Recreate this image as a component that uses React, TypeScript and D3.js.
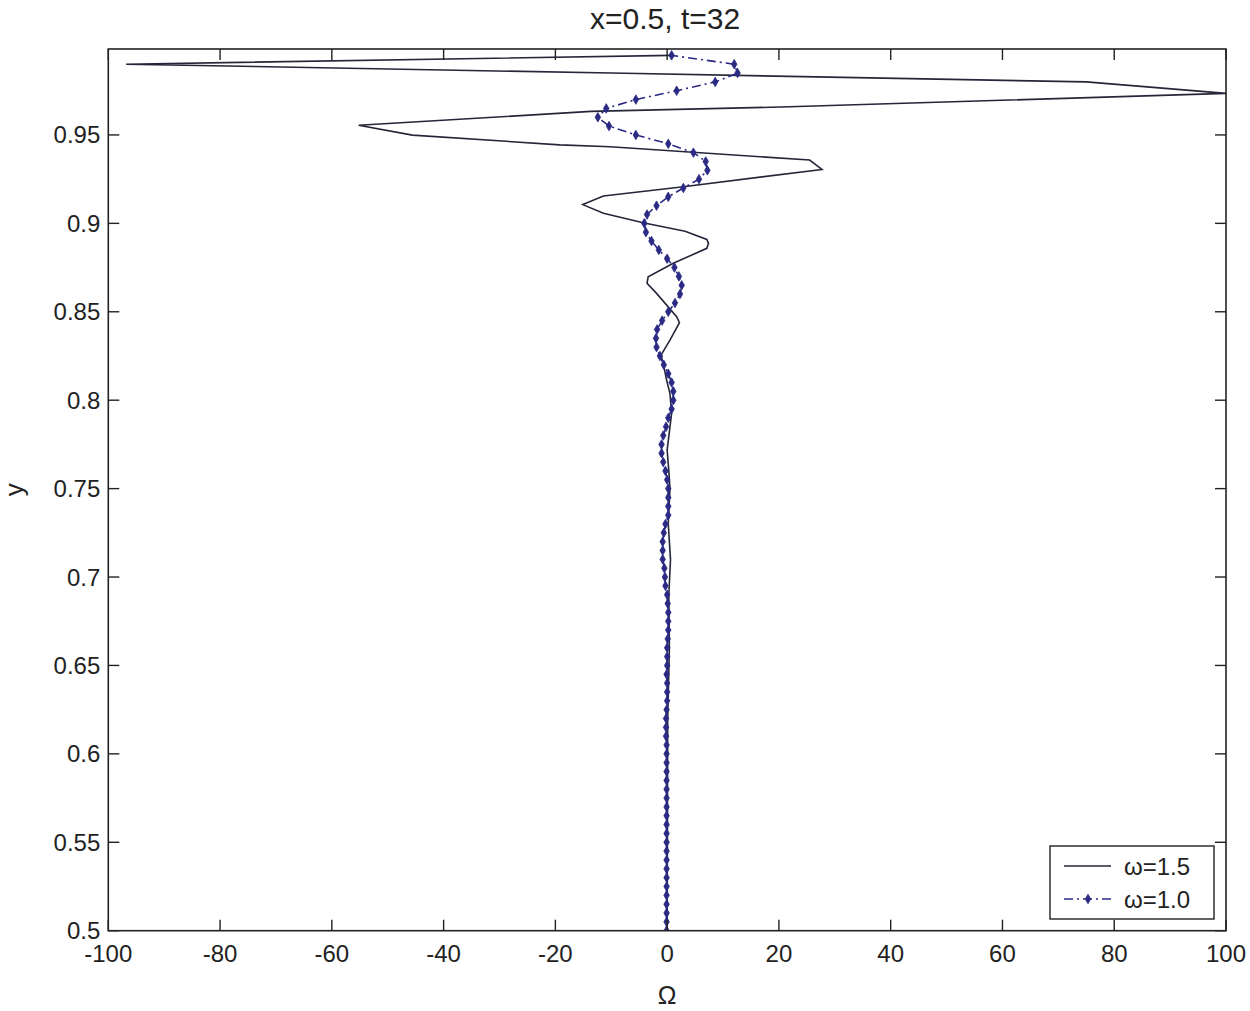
import React from "react";
import * as d3 from "d3";

const title = "x=0.5, t=32";
const xLabel = "Ω";
const yLabel = "y";
const xTicks = [-100, -80, -60, -40, -20, 0, 20, 40, 60, 80, 100];
const yTicks = [0.5, 0.55, 0.6, 0.65, 0.7, 0.75, 0.8, 0.85, 0.9, 0.95];
const seriesNames = ["ω=1.5", "ω=1.0"];

// ω=1.5 (solid) vertices: y positions and Ω values
const solidY = [0.995, 0.99, 0.985, 0.98, 0.9735, 0.9659, 0.9633, 0.9555, 0.9499, 0.9444, 0.9433, 0.9358, 0.9305,
  0.9207, 0.9155, 0.9106, 0.9057, 0.9003, 0.8955, 0.8909, 0.8887, 0.8859, 0.8774, 0.8698, 0.8661, 0.8604,
  0.8472, 0.8438, 0.834, 0.8255, 0.8208, 0.8114, 0.8039, 0.7926, 0.7718, 0.76, 0.75, 0.73, 0.71, 0.69, 0.66, 0.62, 0.5];
const solidOmega = [0.8, -96.8, -10, 75, 100, 21.9, -13.6, -55.2, -45.6, -19.2, -10.2, 25.5, 27.7,
  2.9, -11.4, -15.1, -11.4, -4.3, 3.2, 7.1, 7.4, 7.1, 1.1, -3.4, -3.6, -1.9,
  1.7, 2.2, 0.5, -1.1, -0.7, -0.1, 0.5, 0.8, 0.0, 0.3, 0.5, 0.2, 0.6, 0.3, 0.4, 0.1, 0.0];

// ω=1.0 (dash-dot with markers)
const dotY = [0.5, 0.505, 0.51, 0.515, 0.52, 0.525, 0.53, 0.535, 0.54, 0.545, 0.55, 0.555, 0.56, 0.565, 0.57, 0.575,
  0.58, 0.585, 0.59, 0.595, 0.6, 0.605, 0.61, 0.615, 0.62, 0.625, 0.63, 0.635, 0.64, 0.645, 0.65, 0.655, 0.66, 0.665,
  0.67, 0.675, 0.68, 0.685, 0.69, 0.695, 0.7, 0.705, 0.71, 0.715, 0.72, 0.725, 0.73, 0.735, 0.74, 0.745, 0.75, 0.755,
  0.76, 0.765, 0.77, 0.775, 0.78, 0.785, 0.79, 0.795, 0.8, 0.805, 0.81, 0.815, 0.82, 0.825, 0.83, 0.835, 0.84, 0.845,
  0.85, 0.855, 0.86, 0.865, 0.87, 0.875, 0.88, 0.885, 0.89, 0.895, 0.9, 0.905, 0.91, 0.915, 0.92, 0.925, 0.93, 0.935,
  0.94, 0.945, 0.95, 0.955, 0.96, 0.965, 0.97, 0.975, 0.98, 0.985, 0.99, 0.995];
const dotOmega = [-0.1, -0.1, -0.1, -0.1, -0.1, -0.1, -0.1, -0.1, -0.1, -0.1, -0.1, -0.1, -0.1, -0.1, -0.1, -0.1,
  -0.1, -0.1, -0.1, -0.1, -0.1, -0.1, -0.2, -0.2, -0.2, -0.1, 0.0, 0.0, 0.0, -0.1, 0.0, 0.0, 0.0, 0.1,
  0.2, 0.2, 0.2, 0.1, 0.0, -0.3, -0.4, -0.5, -0.8, -0.8, -0.8, -0.6, -0.3, 0.2, 0.2, 0.2, 0.2, 0.0,
  -0.3, -0.7, -1.0, -1.0, -0.7, -0.2, 0.2, 0.8, 1.1, 1.1, 0.8, 0.2, -0.6, -1.3, -1.9, -2.0, -1.8, -0.9,
  0.2, 1.4, 2.3, 2.6, 2.1, 1.3, 0.0, -1.5, -2.8, -3.8, -4.1, -3.6, -1.9, 0.2, 2.9, 5.7, 7.2, 6.9,
  4.7, 0.2, -5.6, -10.4, -12.4, -10.9, -5.6, 1.7, 8.6, 12.6, 12.0, 0.8];

const W = 1250;
const H = 1011;
const L = 108.3, R = 1226, T = 49, B = 930.7;
const FONT = "'Liberation Sans', Arial, sans-serif";
const SOLID_COLOR = "#26263a";
const DOT_COLOR = "#2a2a84";

export default function App() {
  const x = d3.scaleLinear().domain([-100, 100]).range([L, R]);
  const y = d3.scaleLinear().domain([0.5, 0.9986]).range([B, T]);

  const solidPts: [number, number][] = solidY.map((v, i) => [solidOmega[i], v]);
  const dotPts: [number, number][] = dotY.map((v, i) => [dotOmega[i], v]);
  const line = d3.line<[number, number]>().x((d) => x(d[0])).y((d) => y(d[1]));
  const diamond = d3.symbol().type(d3.symbolDiamond).size(26)() as string;

  const fmtY = (v: number) => String(+v.toFixed(2));

  return (
    <svg width={W} height={H} style={{ position: "absolute", left: 0, top: 0, background: "#fff" }}>
      <defs>
        <clipPath id="plotclip">
          <rect x={L} y={T} width={R - L} height={B - T} />
        </clipPath>
      </defs>
      <rect x={0} y={0} width={W} height={H} fill="#fff" />
      <text x={(L + R) / 2 - 2} y={29} textAnchor="middle" fontFamily={FONT} fontSize={30} fill="#222">{title}</text>

      <g clipPath="url(#plotclip)">
        <path d={line(solidPts) || ""} fill="none" stroke={SOLID_COLOR} strokeWidth={1.6} />
        <path d={line(dotPts) || ""} fill="none" stroke={DOT_COLOR} strokeWidth={1.6} strokeDasharray="9,4,2,4" />
        {dotPts.map((d, i) => (
          <path key={i} d={diamond} transform={`translate(${x(d[0])},${y(d[1])})`} fill={DOT_COLOR} stroke={DOT_COLOR} strokeWidth={0.8} />
        ))}
      </g>

      <rect x={L} y={T} width={R - L} height={B - T} fill="none" stroke="#222" strokeWidth={1.6} />
      {xTicks.map((t) => (
        <g key={"xt" + t}>
          <line x1={x(t)} x2={x(t)} y1={B} y2={B - 11} stroke="#222" strokeWidth={1.4} />
          <line x1={x(t)} x2={x(t)} y1={T} y2={T + 11} stroke="#222" strokeWidth={1.4} />
          <text x={x(t)} y={B + 31} textAnchor="middle" fontFamily={FONT} fontSize={24} fill="#222">{t}</text>
        </g>
      ))}
      {yTicks.map((t) => (
        <g key={"yt" + t}>
          <line x1={L} x2={L + 11} y1={y(t)} y2={y(t)} stroke="#222" strokeWidth={1.4} />
          <line x1={R} x2={R - 11} y1={y(t)} y2={y(t)} stroke="#222" strokeWidth={1.4} />
          <text x={L - 8} y={y(t) + 8.5} textAnchor="end" fontFamily={FONT} fontSize={24} fill="#222">{fmtY(t)}</text>
        </g>
      ))}
      <text x={667} y={1004} textAnchor="middle" fontFamily={FONT} fontSize={25} fill="#222">{xLabel}</text>
      <text transform={`translate(23,${(T + B) / 2}) rotate(-90)`} textAnchor="middle" fontFamily={FONT} fontSize={26} fill="#222">{yLabel}</text>

      <g>
        <rect x={1050} y={846} width={164} height={73} fill="#fff" stroke="#222" strokeWidth={1.4} />
        <line x1={1064} x2={1111} y1={866} y2={866} stroke={SOLID_COLOR} strokeWidth={1.4} />
        <text x={1124} y={875} fontFamily={FONT} fontSize={24} fill="#222">{seriesNames[0]}</text>
        <line x1={1064} x2={1111} y1={899} y2={899} stroke={DOT_COLOR} strokeWidth={1.4} strokeDasharray="9,4,2,4" />
        <path d={diamond} transform="translate(1088,899)" fill={DOT_COLOR} stroke={DOT_COLOR} strokeWidth={0.8} />
        <text x={1124} y={908} fontFamily={FONT} fontSize={24} fill="#222">{seriesNames[1]}</text>
      </g>
    </svg>
  );
}
